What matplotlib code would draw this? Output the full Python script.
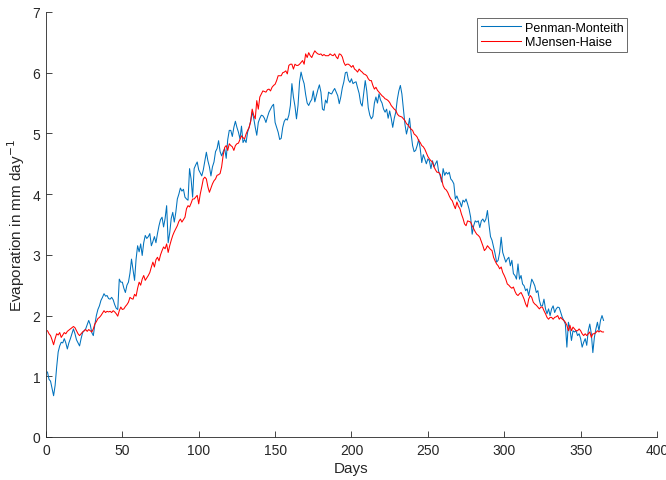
import numpy as np
import matplotlib
matplotlib.use("Agg")
import matplotlib.pyplot as plt

plt.rcParams['font.family'] = ['Liberation Sans', 'DejaVu Sans']

# Daily reference evaporation (mm/day), day 1 .. 365
penman_monteith = [
    1.07, 0.95, 0.92, 0.80, 0.68, 0.85, 1.15, 1.40, 1.50, 1.56,
    1.55, 1.62, 1.55, 1.45, 1.55, 1.62, 1.70, 1.78, 1.70, 1.60,
    1.55, 1.50, 1.62, 1.72, 1.75, 1.78, 1.85, 1.92, 1.85, 1.72,
    1.67, 1.85, 2.00, 2.10, 2.16, 2.25, 2.30, 2.36, 2.32, 2.33,
    2.28, 2.27, 2.30, 2.26, 2.18, 2.12, 2.10, 2.60, 2.55, 2.55,
    2.45, 2.38, 2.50, 2.55, 2.70, 2.93, 2.75, 2.58, 2.93, 3.15,
    3.05, 3.18, 2.99, 3.20, 3.32, 3.27, 3.30, 3.35, 3.15, 3.22,
    3.30, 3.20, 3.35, 3.48, 3.58, 3.62, 3.46, 3.60, 3.81, 3.20,
    3.36, 3.60, 3.70, 3.54, 3.70, 3.92, 4.00, 4.10, 4.05, 4.08,
    3.95, 3.92, 3.90, 4.42, 4.25, 3.95, 4.42, 4.48, 4.53, 4.40,
    4.35, 4.30, 4.40, 4.55, 4.69, 4.55, 4.45, 4.30, 4.45, 4.53,
    4.70, 4.75, 4.88, 4.70, 4.63, 4.70, 4.75, 4.59, 4.90, 5.05,
    5.05, 4.95, 5.10, 5.20, 5.10, 5.02, 4.91, 5.12, 4.85, 4.90,
    4.85, 5.02, 5.10, 5.20, 5.35, 5.25, 5.10, 4.97, 5.18, 5.25,
    5.30, 5.29, 5.25, 5.18, 5.27, 5.35, 5.40, 5.45, 5.48, 5.18,
    5.10, 5.02, 4.90, 4.92, 5.10, 5.20, 5.24, 5.22, 5.30, 5.46,
    5.82, 5.60, 5.45, 5.24, 5.46, 5.85, 6.01, 5.90, 5.82, 5.64,
    5.50, 5.46, 5.52, 5.56, 5.70, 5.52, 5.62, 5.72, 5.80, 5.68,
    5.40, 5.38, 5.55, 5.50, 5.68, 5.66, 5.65, 5.70, 5.74, 5.68,
    5.62, 5.49, 5.60, 5.75, 5.85, 6.00, 6.01, 5.88, 5.84, 5.90,
    5.82, 5.84, 5.85, 5.75, 5.66, 5.50, 5.45, 5.66, 5.87, 5.70,
    5.42, 5.30, 5.24, 5.28, 5.50, 5.60, 5.50, 5.65, 5.55, 5.50,
    5.40, 5.35, 5.40, 5.25, 5.37, 5.25, 5.10, 5.25, 5.35, 5.56,
    5.70, 5.79, 5.65, 5.40, 5.15, 4.99, 5.10, 5.25, 5.00, 4.80,
    4.70, 4.72, 4.80, 4.90, 4.75, 4.52, 4.65, 4.58, 4.50, 4.58,
    4.55, 4.42, 4.55, 4.45, 4.50, 4.55, 4.38, 4.31, 4.20, 4.42,
    4.31, 4.36, 4.33, 4.36, 4.25, 4.22, 4.17, 3.92, 3.97, 3.90,
    3.87, 3.79, 3.90, 3.87, 3.92, 3.84, 3.75, 3.62, 3.34, 3.48,
    3.56, 3.54, 3.56, 3.45, 3.56, 3.59, 3.54, 3.59, 3.73, 3.50,
    3.30, 3.24, 3.13, 3.02, 2.88, 2.91, 3.04, 3.29, 3.04, 2.96,
    2.88, 2.93, 2.96, 2.82, 2.91, 2.69, 2.66, 2.60, 2.85, 2.60,
    2.66, 2.52, 2.49, 2.41, 2.44, 2.33, 2.47, 2.60, 2.55, 2.49,
    2.38, 2.41, 2.25, 2.16, 2.16, 2.27, 2.11, 2.03, 2.11, 2.00,
    2.11, 2.16, 2.05, 2.11, 2.14, 2.13, 2.05, 1.97, 1.92, 1.86,
    1.48, 1.89, 1.78, 1.59, 1.75, 1.73, 1.75, 1.67, 1.70, 1.62,
    1.48, 1.56, 1.62, 1.51, 1.75, 1.86, 1.70, 1.39, 1.64, 1.78,
    1.89, 1.75, 1.92, 2.00, 1.92,
]

jensen_haise = [
    1.75, 1.70, 1.67, 1.60, 1.52, 1.62, 1.70, 1.68, 1.72, 1.64,
    1.68, 1.72, 1.70, 1.74, 1.76, 1.78, 1.80, 1.82, 1.80, 1.75,
    1.70, 1.67, 1.70, 1.73, 1.75, 1.77, 1.74, 1.77, 1.75, 1.73,
    1.78, 1.86, 1.90, 1.95, 1.97, 2.00, 2.04, 2.08, 2.05, 2.07,
    2.06, 2.07, 2.05, 2.08, 2.06, 2.03, 1.99, 2.08, 2.14, 2.10,
    2.11, 2.15, 2.18, 2.22, 2.30, 2.28, 2.27, 2.35, 2.32, 2.45,
    2.55, 2.50, 2.60, 2.66, 2.58, 2.62, 2.66, 2.71, 2.80, 2.88,
    2.80, 2.92, 2.96, 2.90, 3.00, 3.07, 3.13, 3.10, 3.18, 3.04,
    3.15, 3.24, 3.32, 3.38, 3.43, 3.48, 3.55, 3.59, 3.54, 3.58,
    3.62, 3.76, 3.81, 3.79, 3.85, 3.92, 3.92, 3.95, 3.98, 3.84,
    4.00, 4.12, 4.25, 4.28, 4.25, 4.12, 4.03, 4.10, 4.17, 4.22,
    4.25, 4.31, 4.32, 4.34, 4.45, 4.64, 4.77, 4.80, 4.72, 4.83,
    4.80, 4.78, 4.72, 4.80, 4.83, 4.84, 4.90, 4.96, 4.93, 4.91,
    4.99, 5.05, 5.10, 5.20, 5.40, 5.30, 5.24, 5.54, 5.40, 5.60,
    5.65, 5.70, 5.69, 5.68, 5.72, 5.73, 5.70, 5.76, 5.79, 5.81,
    5.87, 5.95, 5.95, 5.95, 6.00, 6.01, 6.03, 5.98, 6.12, 6.14,
    6.14, 6.06, 6.14, 6.12, 6.12, 6.14, 6.17, 6.20, 6.14, 6.31,
    6.25, 6.33, 6.28, 6.25, 6.31, 6.36, 6.33, 6.31, 6.30, 6.31,
    6.28, 6.30, 6.28, 6.28, 6.28, 6.31, 6.29, 6.28, 6.31, 6.26,
    6.23, 6.31, 6.30, 6.26, 6.17, 6.12, 6.14, 6.14, 6.12, 6.09,
    6.12, 6.06, 6.04, 6.01, 6.06, 6.03, 6.01, 5.98, 5.97, 5.95,
    5.90, 5.87, 5.87, 5.79, 5.73, 5.76, 5.71, 5.68, 5.65, 5.62,
    5.60, 5.57, 5.56, 5.54, 5.51, 5.46, 5.43, 5.40, 5.38, 5.32,
    5.29, 5.28, 5.27, 5.24, 5.21, 5.16, 5.14, 5.10, 5.07, 5.05,
    4.99, 4.97, 4.94, 4.88, 4.85, 4.80, 4.78, 4.74, 4.68, 4.62,
    4.58, 4.55, 4.53, 4.45, 4.40, 4.36, 4.36, 4.33, 4.25, 4.14,
    4.09, 4.07, 4.03, 3.97, 3.92, 3.89, 3.82, 3.76, 3.87, 3.80,
    3.76, 3.67, 3.60, 3.51, 3.48, 3.56, 3.55, 3.54, 3.48, 3.43,
    3.38, 3.34, 3.32, 3.29, 3.22, 3.15, 3.07, 3.10, 3.15, 3.12,
    3.09, 3.07, 2.96, 2.90, 2.85, 2.82, 2.77, 2.80, 2.71, 2.66,
    2.60, 2.52, 2.50, 2.47, 2.45, 2.47, 2.40, 2.35, 2.33, 2.36,
    2.38, 2.33, 2.27, 2.19, 2.14, 2.27, 2.33, 2.30, 2.22, 2.19,
    2.17, 2.14, 2.11, 2.14, 2.14, 2.08, 2.03, 1.97, 1.94, 1.97,
    1.97, 1.94, 1.97, 1.98, 2.00, 1.94, 1.97, 1.94, 1.92, 1.89,
    1.84, 1.75, 1.84, 1.75, 1.81, 1.78, 1.75, 1.75, 1.78, 1.75,
    1.70, 1.67, 1.70, 1.67, 1.70, 1.73, 1.64, 1.70, 1.70, 1.72,
    1.75, 1.73, 1.75, 1.73, 1.73,
]

days = np.arange(1, len(penman_monteith) + 1)
x_ticks = [0, 50, 100, 150, 200, 250, 300, 350, 400]
y_ticks = [0, 1, 2, 3, 4, 5, 6, 7]

fig = plt.figure(figsize=(6.66, 4.81), dpi=100)
ax = fig.add_axes([0.069, 0.0894, 0.9175, 0.8836])

ax.plot(days, penman_monteith, color='#0072BD', lw=0.75, label='Penman-Monteith')
ax.plot(days, jensen_haise, color='#FF0000', lw=0.75, label='MJensen-Haise')

ax.set_xlim(0, 400)
ax.set_ylim(0, 7)
ax.set_xticks(x_ticks)
ax.set_yticks(y_ticks)

axis_grey = '#262626'
for side in ('top', 'right'):
    ax.spines[side].set_visible(False)
for side in ('left', 'bottom'):
    ax.spines[side].set_color(axis_grey)
    ax.spines[side].set_linewidth(0.6)
ax.tick_params(direction='in', length=4, width=0.6, colors=axis_grey,
               labelsize=10, pad=4)

ax.set_xlabel('Days', fontsize=11, color=axis_grey, labelpad=3)
ax.set_ylabel('Evaporation in mm day$^{-1}$', fontsize=11, color=axis_grey,
              labelpad=4)

leg = ax.legend(loc='upper right', bbox_to_anchor=(0.951, 0.986), fontsize=9,
                frameon=True, fancybox=False, handlelength=3.2,
                borderpad=0.3, borderaxespad=0.0, labelspacing=0.2,
                handletextpad=0.3)
leg.get_frame().set_edgecolor(axis_grey)
leg.get_frame().set_linewidth(0.6)

fig.savefig('out.png', dpi=100)
